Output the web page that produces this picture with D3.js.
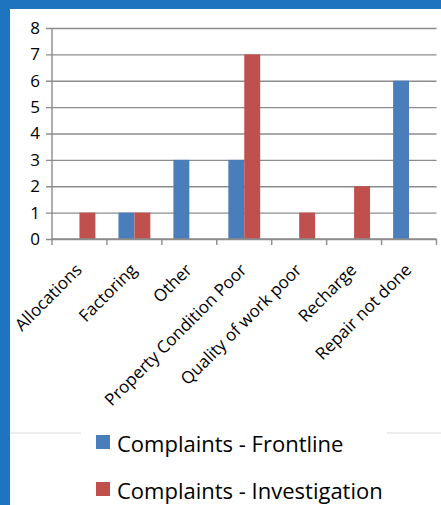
<!DOCTYPE html>
<html>
<head>
<meta charset="utf-8">
<script src="https://cdn.jsdelivr.net/npm/d3@7"></script>
<style>
  body { margin: 0; background: #fff; }
  svg { display: block; font-family: "Open Sans", sans-serif; }
</style>
</head>
<body>
<svg id="chart"></svg>
<script>
const categories = ['Allocations', 'Factoring', 'Other', 'Property Condition Poor', 'Quality of work poor', 'Recharge', 'Repair not done'];
const seriesNames = ['Complaints - Frontline', 'Complaints - Investigation'];
const frontline = [0, 1, 3, 3, 0, 0, 6];
const investigation = [1, 1, 0, 7, 1, 2, 0];
const yTicks = [0, 1, 2, 3, 4, 5, 6, 7, 8];
const colors = ['#4a7ebb', '#c0504d'];

const w = 441, h = 505;
const plotLeft = 52, plotRight = 436.5, plotTop = 28, plotBottom = 239;

const svg = d3.select('#chart').attr('width', w).attr('height', h);

// frame
svg.append('rect').attr('width', w).attr('height', h).attr('fill', '#1f74bf');
svg.append('rect').attr('x', 10).attr('y', 9).attr('width', w - 10).attr('height', h - 9).attr('fill', '#fff');

const data = categories.map((c, i) => ({ cat: c, vals: [frontline[i], investigation[i]] }));

const x0 = d3.scaleBand().domain(categories).range([plotLeft, plotRight]).paddingInner(0.42).paddingOuter(0.21);
const x1 = d3.scaleBand().domain([0, 1]).range([0, x0.bandwidth()]);
const y = d3.scaleLinear().domain([0, 8]).range([plotBottom, plotTop]);

// gridlines + y ticks
svg.append('g')
  .attr('transform', 'translate(' + plotLeft + ',0)')
  .call(d3.axisLeft(y).tickValues(yTicks).tickSize(-(plotRight - plotLeft)).tickSizeOuter(0).tickPadding(12))
  .call(g => g.select('.domain').remove())
  .call(g => g.selectAll('.tick line').attr('stroke', '#8c8c8c').attr('stroke-width', 1.4).attr('x1', -6))
  .call(g => g.selectAll('.tick text').attr('font-size', 17).attr('fill', '#000').attr('font-family', '"Open Sans", sans-serif'));

// y axis line
svg.append('line').attr('x1', plotLeft).attr('x2', plotLeft).attr('y1', plotTop).attr('y2', plotBottom)
  .attr('stroke', '#8c8c8c').attr('stroke-width', 1.4);

// bars
const groups = svg.append('g').selectAll('g').data(data).enter().append('g')
  .attr('transform', d => 'translate(' + x0(d.cat) + ',0)');
groups.selectAll('rect').data(d => d.vals.map((v, k) => ({ k, v }))).enter().append('rect')
  .attr('x', d => x1(d.k))
  .attr('y', d => y(d.v))
  .attr('width', x1.bandwidth())
  .attr('height', d => plotBottom - y(d.v))
  .attr('fill', d => colors[d.k]);

// x axis line + ticks at band boundaries
svg.append('line').attr('x1', plotLeft).attr('x2', plotRight).attr('y1', plotBottom).attr('y2', plotBottom)
  .attr('stroke', '#8c8c8c').attr('stroke-width', 1.4);
const step = x0.step();
svg.append('g').selectAll('line').data(d3.range(categories.length + 1)).enter().append('line')
  .attr('x1', i => plotLeft + i * step).attr('x2', i => plotLeft + i * step)
  .attr('y1', plotBottom).attr('y2', plotBottom + 6)
  .attr('stroke', '#8c8c8c').attr('stroke-width', 1.4);

// category labels
svg.append('g').selectAll('text').data(categories).enter().append('text')
  .attr('transform', d => 'translate(' + (x0(d) + x0.bandwidth() / 2 + 3.5) + ',' + (plotBottom + 32) + ') rotate(-45)')
  .attr('text-anchor', 'end')
  .attr('font-size', 17)
  .attr('fill', '#000')
  .text(d => d);

// faint plot border line behind legend
svg.append('line').attr('x1', 10).attr('x2', w).attr('y1', 433).attr('y2', 433)
  .attr('stroke', '#dcdcdc').attr('stroke-width', 1);
svg.append('rect').attr('x', 81).attr('y', 428).attr('width', 306).attr('height', 77).attr('fill', '#fff');

// legend
const legend = svg.append('g').selectAll('g').data(seriesNames).enter().append('g')
  .attr('transform', (d, i) => 'translate(96,' + (435 + i * 47) + ')');
legend.append('rect').attr('width', 14).attr('height', 14).attr('fill', (d, i) => colors[i]);
legend.append('text').attr('x', 21).attr('y', 17).attr('font-size', 22).attr('fill', '#000').text(d => d);
</script>
</body>
</html>
